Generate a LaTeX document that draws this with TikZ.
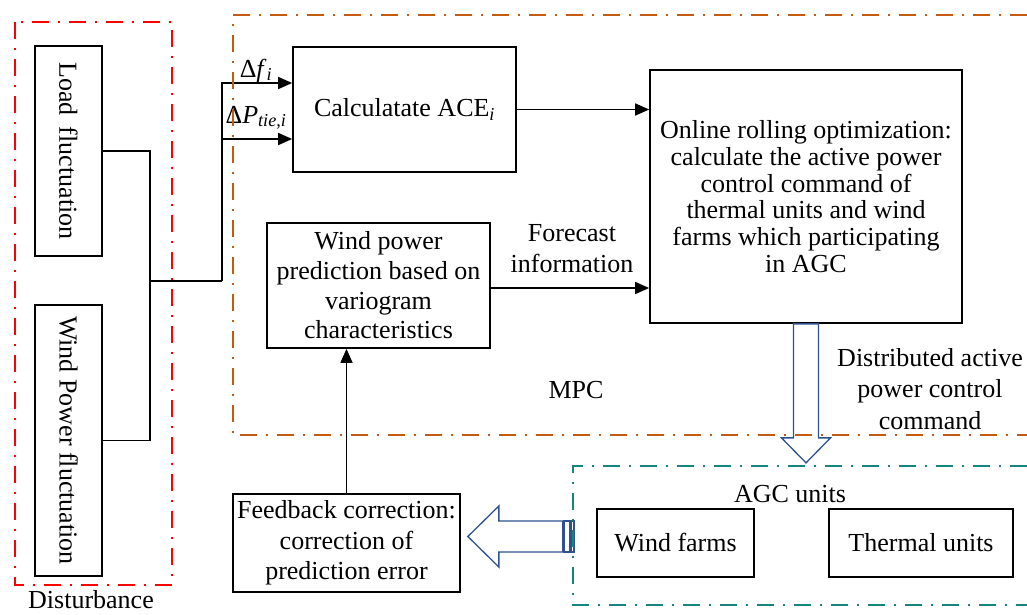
\documentclass[tikz,border=0pt]{standalone}
\usepackage{graphicx}
\usepackage{fontspec}
\setmainfont{Liberation Serif}
\usetikzlibrary{arrows.meta,calc}
\definecolor{distred}{RGB}{255,0,0}
\definecolor{mpcorange}{HTML}{C55A11}
\definecolor{agcteal}{HTML}{16857F}
\definecolor{fatblue}{HTML}{2F528F}
\begin{document}
\begin{tikzpicture}[x=1pt,y=-1pt,
  txt/.style={font=\fontsize{26}{30}\selectfont, align=center, inner sep=0pt},
  box/.style={txt, draw, line width=1.7pt},
  link/.style={line width=1.6pt},
  arr/.style={link, -{Triangle[length=14pt,width=12pt]}},
  frame/.style={line width=2pt, dash pattern=on 17pt off 9pt on 2pt off 9pt},
  fat/.style={draw=fatblue, fill=white, line width=1.3pt, line join=miter}]
\useasboundingbox (0,0) rectangle (1027,614);

% disturbance sources
\node[box, minimum width=67pt, minimum height=210pt] (load) at (68.5,151) {\rotatebox{-90}{Load\, fluctuation}};
\node[box, minimum width=67pt, minimum height=271pt] (wpf) at (68.5,440.5) {\rotatebox{-90}{Wind Power fluctuation}};
\node[txt, anchor=base] (dist) at (91,608) {Disturbance};

% MPC blocks
\node[box, minimum width=223pt, minimum height=125pt] (ace) at (404.5,109.5) {Calculatate ACE\textsubscript{\textit{i}}};
\node[box, font=\fontsize{26}{26.7}\selectfont, minimum width=312pt, minimum height=253pt] (online) at (806,196.5)
  {Online rolling optimization:\\calculate the active power\\control command of\\thermal units and wind\\farms which participating\\in AGC};
\node[box, font=\fontsize{26}{29.7}\selectfont, minimum width=223pt, minimum height=125pt] (wpp) at (378.5,285.5)
  {Wind power\\prediction based on\\variogram\\characteristics};
\node[txt, font=\fontsize{26}{31}\selectfont] (fc) at (572,249) {Forecast\\information};
\node[txt, anchor=base] (mpc) at (576,398) {MPC};
\node[txt, font=\fontsize{26}{31.5}\selectfont] (cmd) at (930,389) {Distributed active\\power control\\command};

% feedback and AGC units
\node[box, font=\fontsize{26}{30.5}\selectfont, minimum width=227pt, minimum height=98pt] (fb) at (346.5,543)
  {Feedback correction:\\correction of\\prediction error};
\node[txt, anchor=base] (agc) at (790,502) {AGC units};
\node[box, minimum width=157pt, minimum height=68pt] (wf) at (675.5,543) {Wind farms};
\node[box, minimum width=184pt, minimum height=68pt] (th) at (921,543) {Thermal units};

% signal labels
\node[txt, anchor=base] (df) at (256,77) {Δ\textit{f}\textsubscript{\textit{i}}};
\node[txt, anchor=base] (dp) at (256,123) {Δ\textit{P}\textsubscript{\textit{tie},\textit{i}}};

% connectors
\coordinate (j1) at (150,281);
\coordinate (j2) at (222,281);
\draw[link] (load.east) -| (j1) |- (wpf.east);
\draw[link] (j1) -- (j2);
\draw[arr] (j2) |- (ace.west |- 0,83);
\draw[arr] (j2 |- 0,139) -- (ace.west |- 0,139);
\draw[arr] (ace.east) -- (online.west |- ace.east);
\draw[arr] ($(wpp.east)+(0,2.5)$) -- ($(online.west |- wpp.east)+(0,2.5)$);
\draw[arr] (fb.north) -- (fb.north |- wpp.south);

% hollow block arrows
\draw[fat] ($(online.south)+(-12.5,0)$) -- ++(0,114) -- ++(-12,0) -- ($(online.south)+(0,139)$)
  -- ($(online.south)+(24.5,114)$) -- ++(-12,0) -- ($(online.south)+(12.5,0)$) -- cycle;
\coordinate (tip) at ($(fb.east)+(7,-6.5)$);
\draw[fat] (tip) -- ++(31,-30.5) -- ++(0,15) -- ++(64,0) -- ++(0,31) -- ++(-64,0) -- ++(0,15) -- cycle;
\draw[fat] ($(tip)+(96,-15.5)$) rectangle ++(6,31);
\draw[fat] ($(tip)+(103.5,-15.5)$) rectangle ++(2.5,31);

% dash-dot frames
\draw[frame, distred] (15,22) rectangle (172,585);
\draw[frame, mpcorange] (1027,15) -- (233,15) -- (233,435) -- (1027,435);
\draw[frame, agcteal] (1027,466) -- (573,466) -- (573,605) -- (1027,605);
\end{tikzpicture}
\end{document}
